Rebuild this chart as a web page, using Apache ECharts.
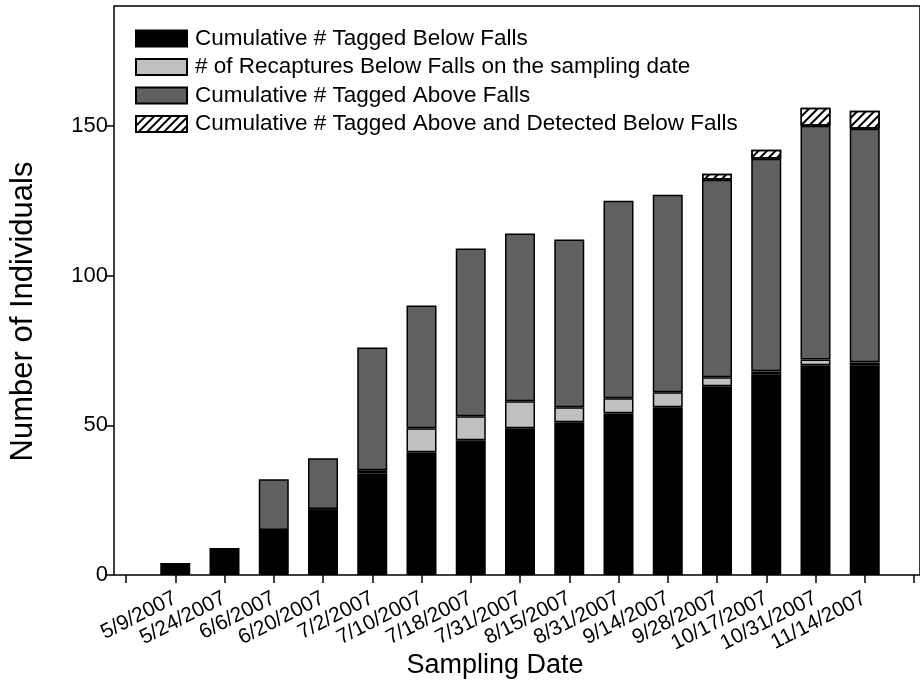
<!DOCTYPE html>
<html>
<head>
<meta charset="utf-8">
<script src="https://cdn.jsdelivr.net/npm/echarts@6/dist/echarts.min.js"></script>
<style>html,body{margin:0;padding:0;background:#fff;}#c{width:920px;height:693px;}</style>
</head>
<body>
<div id="c"></div>
<script>
// Sampling dates (categories)
var dates = ['5/9/2007','5/24/2007','6/6/2007','6/20/2007','7/2/2007','7/10/2007','7/18/2007','7/31/2007','8/15/2007','8/31/2007','9/14/2007','9/28/2007','10/17/2007','10/31/2007','11/14/2007'];
// Stacked segment values
var taggedBelow   = [4, 9, 15, 21, 34, 41, 45, 49, 51, 54, 56, 63, 67, 70, 70];
var recapBelow    = [0, 0, 0, 1, 1, 8, 8, 9, 5, 5, 5, 3, 1, 2, 1];
var taggedAbove   = [0, 0, 17, 17, 41, 41, 56, 56, 56, 66, 66, 66, 71, 78, 78];
var aboveDetected = [0, 0, 0, 0, 0, 0, 0, 0, 0, 0, 0, 2, 3, 6, 6];
var yTicks = [0, 50, 100, 150];

var seriesNames = ['Cumulative # Tagged Below Falls','# of Recaptures Below Falls on the sampling date','Cumulative # Tagged Above Falls','Cumulative # Tagged Above and Detected Below Falls'];

function pad(arr){ var out=['-']; arr.forEach(function(v){ out.push(v===0?'-':v); }); out.push('-'); return out; }
var cats = [''].concat(dates).concat(['']);

var font = 'Liberation Sans, Arial, Helvetica, sans-serif';
var chart = echarts.init(document.getElementById('c'), null, {renderer:'canvas'});
var bw = 1.5;
function mk(name, data, color, decal){
  var s = {name:name, type:'bar', stack:'s', xAxisIndex:0, yAxisIndex:0, barWidth:30, data:pad(data),
    itemStyle:{color:color, borderColor:'#000', borderWidth:bw}, emphasis:{disabled:true}, animation:false};
  if(decal) s.itemStyle.decal = decal;
  return s;
}
chart.setOption({
  animation:false,
  aria:{enabled:false},
  grid:[
    {left:126, right:6, top:6, bottom:118},
    {left:113, right:-3, top:6, bottom:118, show:true, borderColor:'#000', borderWidth:1.5, backgroundColor:'transparent'}
  ],
  legend:{
    orient:'vertical', left:130, top:22, itemWidth:51, itemHeight:16, itemGap:5.5, icon:'rect',
    textStyle:{fontFamily:font, fontSize:22.5, color:'#000', lineHeight:22.5, padding:[0,0,0,3]},
    data:seriesNames.map(function(n){return {name:n};}),
    selectedMode:false
  },
  xAxis:[
    {type:'category', gridIndex:0, data:cats, boundaryGap:false,
     axisLine:{show:false}, axisTick:{show:true, inside:false, length:8, lineStyle:{color:'#000', width:1.5}},
     axisLabel:{interval:0, rotate:27, fontFamily:font, fontSize:21, color:'#000', margin:22},
     name:'Sampling Date', nameLocation:'middle', nameGap:77, nameMoveOverlap:false,
     nameTextStyle:{fontFamily:font, fontSize:27, color:'#000', padding:[0,50,0,0]}},
    {type:'value', gridIndex:1, min:0, max:1, show:false}
  ],
  yAxis:[
    {type:'value', gridIndex:0, min:0, max:190, show:false, splitLine:{show:false}},
    {type:'value', gridIndex:1, min:0, max:190, interval:50,
     axisLine:{show:false}, splitLine:{show:false},
     axisTick:{show:true, length:8, customValues:yTicks, lineStyle:{color:'#000', width:1.5}},
     axisLabel:{fontFamily:font, fontSize:22, color:'#000', margin:6, customValues:yTicks},
     name:'Number of Individuals', nameLocation:'middle', nameGap:75, nameMoveOverlap:false,
     nameTextStyle:{fontFamily:font, fontSize:31, color:'#000', padding:[0,42,0,0]}}
  ],
  series:[
    mk(seriesNames[0], taggedBelow, '#000000'),
    mk(seriesNames[1], recapBelow, '#c0c0c0'),
    mk(seriesNames[2], taggedAbove, '#606060'),
    mk(seriesNames[3], aboveDetected, '#ffffff', {symbol:'rect', color:'#000', dashArrayX:[1,0], dashArrayY:[2,4], rotation:-Math.PI/4, symbolSize:1})
  ]
});
</script>
</body>
</html>
